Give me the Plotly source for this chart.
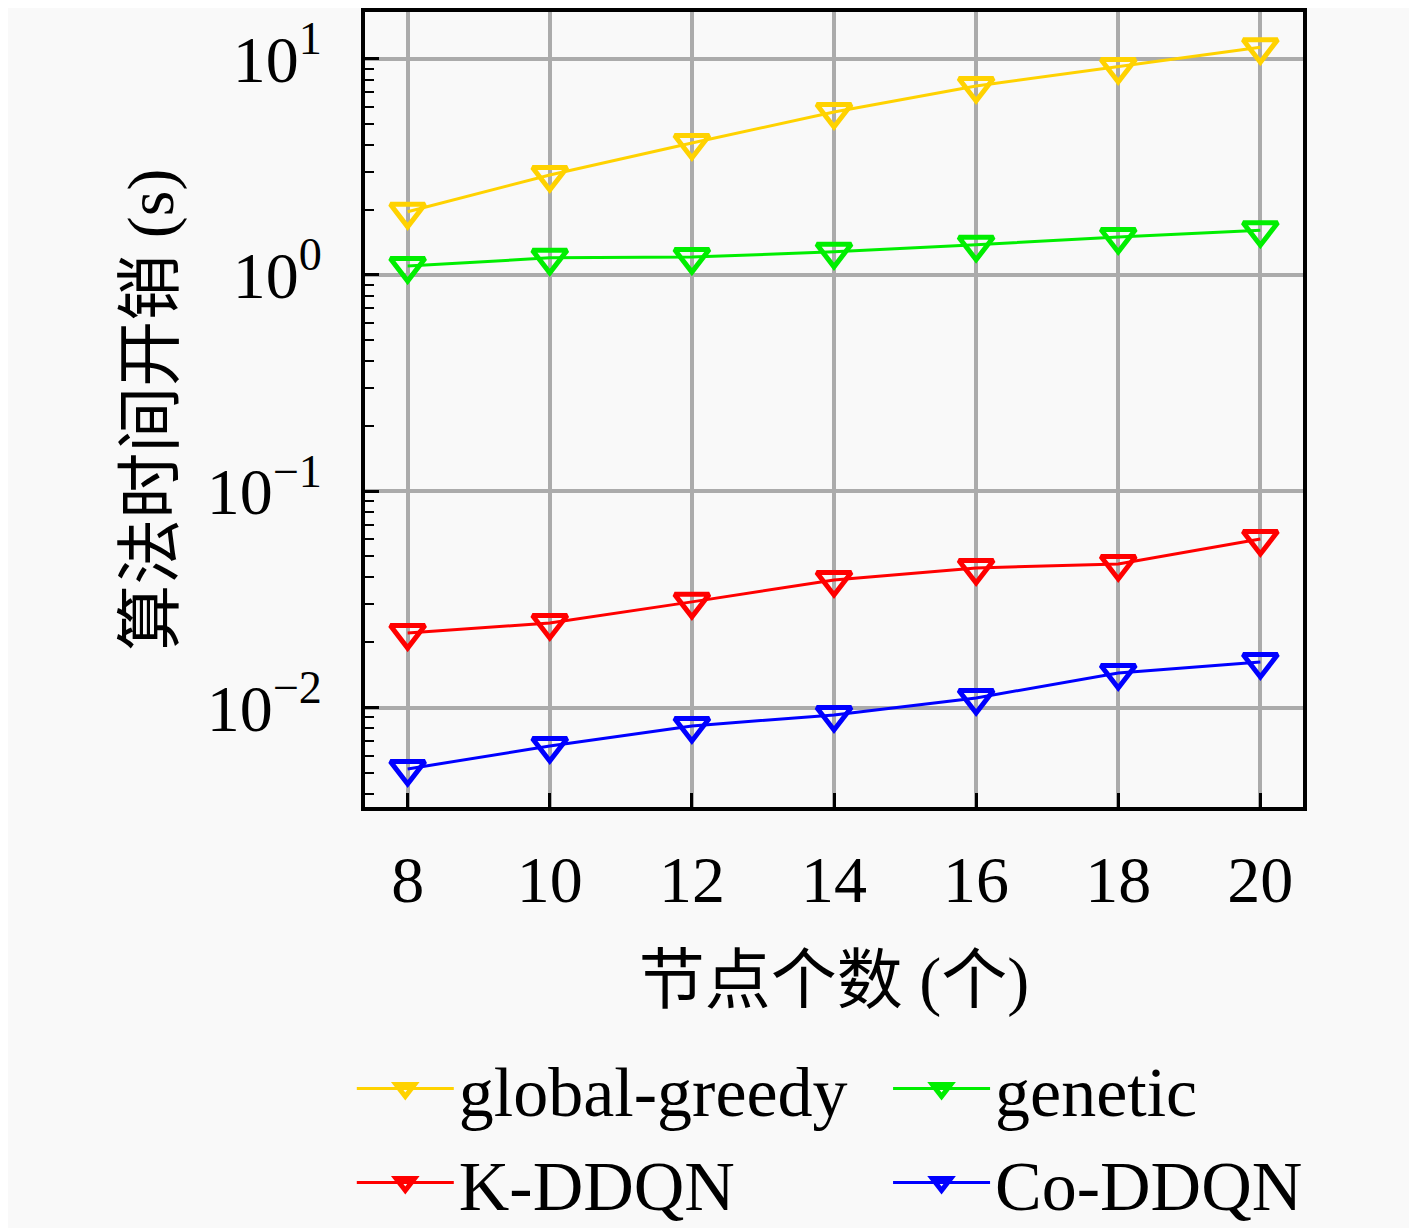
import plotly.graph_objects as go

# 数据
nodes = [8, 10, 12, 14, 16, 18, 20]
global_greedy = [1.96, 2.90, 4.08, 5.67, 7.48, 9.16, 11.3]
genetic = [1.10, 1.20, 1.21, 1.28, 1.38, 1.50, 1.61]
k_ddqn = [0.0221, 0.0246, 0.0308, 0.0389, 0.0442, 0.0461, 0.0602]
co_ddqn = [0.0052, 0.00664, 0.00822, 0.00924, 0.01107, 0.01445, 0.01625]

y_tickvals = [0.01, 0.1, 1, 10]
y_ticktext = ['10<sup>−2</sup>', '10<sup>−1</sup>', '10<sup>0</sup>', '10<sup>1</sup>']

series = [
    ('global-greedy', global_greedy, '#FFD200', 'legend'),
    ('K-DDQN', k_ddqn, '#FF0000', 'legend'),
    ('genetic', genetic, '#00EE00', 'legend2'),
    ('Co-DDQN', co_ddqn, '#0000FF', 'legend2'),
]

serif = 'Liberation Serif, Noto Sans CJK SC'
bg = '#f9f9f9'

fig = go.Figure()
for name, vals, color, lg in series:
    fig.add_trace(go.Scatter(
        x=nodes, y=vals, name=name, mode='lines+markers',
        line=dict(color=color, width=3),
        marker=dict(symbol='triangle-down-open', size=30, color=color,
                    line=dict(color=color, width=5)),
        legend=lg,
    ))

legend_style = dict(
    orientation='v', xanchor='left', yanchor='top',
    xref='container', yref='container',
    font=dict(family=serif, size=70, color='black'),
    bgcolor='rgba(0,0,0,0)', borderwidth=0, itemwidth=97,
    tracegroupgap=0,
)

# 页面 body 默认有 8px 外边距，这里整体减去
fig.update_layout(
    width=1409, height=1220,
    margin=dict(l=357, r=114, t=4, b=421, autoexpand=False),
    paper_bgcolor=bg, plot_bgcolor=bg,
    font=dict(family=serif, size=64, color='black'),
    legend=dict(x=0.244, y=0.157, **legend_style),
    legend2=dict(x=0.6246, y=0.157, **legend_style),
    annotations=[dict(
        text='算法时间开销 (s)', textangle=-90,
        xref='paper', yref='paper', x=-0.229, y=0.5,
        xanchor='center', yanchor='middle', showarrow=False,
        font=dict(family=serif, size=66, color='black'),
    )],
)

fig.update_xaxes(
    range=[7.4, 20.6], automargin=False,
    tickmode='array', tickvals=nodes, ticktext=[str(n) for n in nodes],
    showgrid=True, gridcolor='#ababab', gridwidth=3.5,
    showline=True, linecolor='black', linewidth=4, mirror=True,
    ticks='inside', ticklen=14, tickwidth=3, tickcolor='black',
    ticklabelstandoff=12,
    tickfont=dict(family=serif, size=66),
    title=dict(text='节点个数 (个)', font=dict(family=serif, size=66), standoff=43),
    zeroline=False,
)

fig.update_yaxes(
    type='log', range=[-2.46, 1.216], automargin=False,
    tickmode='array', tickvals=y_tickvals, ticktext=y_ticktext,
    showgrid=True, gridcolor='#ababab', gridwidth=3.5,
    showline=True, linecolor='black', linewidth=4, mirror=True,
    ticks='inside', ticklen=14, tickwidth=3, tickcolor='black',
    ticklabelstandoff=26,
    minor=dict(ticks='inside', ticklen=9, tickwidth=2, tickcolor='black',
               dtick='D1', showgrid=False),
    tickfont=dict(family=serif, size=66),
    zeroline=False,
)

fig.write_html('out.html')
